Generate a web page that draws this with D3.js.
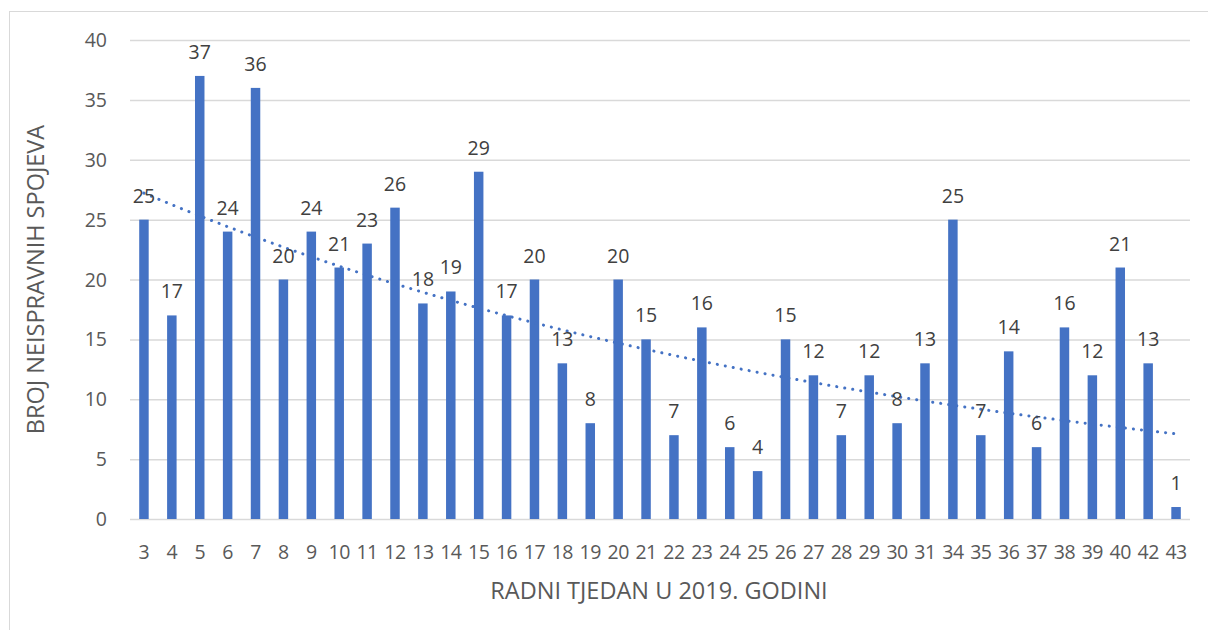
<!DOCTYPE html>
<html>
<head>
<meta charset="utf-8">
<script src="https://cdn.jsdelivr.net/npm/d3@7"></script>
<style>
  body { margin: 0; background: #fff; }
  text { font-family: "Open Sans", "Noto Sans", sans-serif; }
</style>
</head>
<body>
<svg id="chart" width="1208" height="630"></svg>
<script>
// weeks on the x axis
var weeks = ["3", "4", "5", "6", "7", "8", "9", "10", "11", "12", "13", "14", "15", "16", "17", "18", "19", "20",
    "21", "22", "23", "24", "25", "26", "27", "28", "29", "30", "31", "34", "35", "36", "37", "38", "39", "40", "42", "43"];

// broken joints per week
var counts = [25, 17, 37, 24, 36, 20, 24, 21, 23, 26, 18, 19, 29, 17, 20, 13, 8, 20,
    15, 7, 16, 6, 4, 15, 12, 7, 12, 8, 13, 25, 7, 14, 6, 16, 12, 21, 13, 1];

var yTicks = [0, 5, 10, 15, 20, 25, 30, 35, 40];

var svg = d3.select('#chart');
var margin = {left: 130, right: 1190, top: 40, bottom: 519};
var barColor = '#4472C4';

// outer chart border
svg.append('rect')
    .attr('x', 9.5).attr('y', 11.5)
    .attr('width', 1300).attr('height', 700)
    .attr('fill', 'none')
    .attr('stroke', '#d9d9d9');

var x = d3.scaleBand()
    .domain(weeks)
    .range([margin.left, margin.right])
    .paddingInner(0.66)
    .paddingOuter(0.33);

var y = d3.scaleLinear()
    .domain([0, 40])
    .range([margin.bottom, margin.top]);

// gridlines
svg.append('g')
    .selectAll('line')
    .data(yTicks)
    .enter()
    .append('line')
    .attr('x1', margin.left)
    .attr('x2', margin.right)
    .attr('y1', d => y(d) + 0.5)
    .attr('y2', d => y(d) + 0.5)
    .attr('stroke', '#d9d9d9')
    .attr('stroke-width', 1.5);

// y tick labels
svg.append('g')
    .selectAll('text')
    .data(yTicks)
    .enter()
    .append('text')
    .attr('x', 107)
    .attr('y', d => y(d) + 7)
    .attr('text-anchor', 'end')
    .attr('fill', '#595959')
    .style('font-size', '19.5px')
    .text(d => d);

// bars
svg.append('g')
    .selectAll('rect')
    .data(counts)
    .enter()
    .append('rect')
    .attr('x', (d, i) => x(weeks[i]))
    .attr('y', d => y(d))
    .attr('width', x.bandwidth())
    .attr('height', d => y(0) - y(d))
    .attr('fill', barColor);

// x tick labels
svg.append('g')
    .selectAll('text')
    .data(weeks)
    .enter()
    .append('text')
    .attr('x', d => x(d) + x.bandwidth() / 2)
    .attr('y', 559)
    .attr('text-anchor', 'middle')
    .attr('fill', '#595959')
    .style('font-size', '19.5px')
    .style('letter-spacing', '-0.5px')
    .text(d => d);

// exponential trendline fitted on ln(count) vs index, like the spreadsheet does
var n = counts.length;
var xs = d3.range(1, n + 1);
var ls = counts.map(v => Math.log(v));
var mx = d3.mean(xs), ml = d3.mean(ls);
var b = d3.sum(xs, (v, i) => (v - mx) * (ls[i] - ml)) / d3.sum(xs, v => (v - mx) * (v - mx));
var a = ml - b * mx;
var trend = d3.range(0, n - 1, 0.25).concat([n - 1]).map(t => ({t: t, v: Math.exp(a + b * (t + 1))}));

var tx = d3.scaleLinear()
    .domain([0, n - 1])
    .range([x(weeks[0]) + x.bandwidth() / 2, x(weeks[n - 1]) + x.bandwidth() / 2]);

svg.append('path')
    .datum(trend)
    .attr('d', d3.line().x(d => tx(d.t)).y(d => y(d.v)))
    .attr('fill', 'none')
    .attr('stroke', barColor)
    .attr('stroke-width', 3)
    .attr('stroke-linecap', 'round')
    .attr('stroke-dasharray', '0.1 8');

// data labels
svg.append('g')
    .selectAll('text')
    .data(counts)
    .enter()
    .append('text')
    .attr('x', (d, i) => x(weeks[i]) + x.bandwidth() / 2)
    .attr('y', d => y(d) - 17)
    .attr('text-anchor', 'middle')
    .attr('fill', '#404040')
    .style('font-size', '19.5px')
    .text(d => d);

// axis titles
svg.append('text')
    .attr('x', 659)
    .attr('y', 599)
    .attr('text-anchor', 'middle')
    .attr('fill', '#595959')
    .style('font-size', '23.5px')
    .text('RADNI TJEDAN U 2019. GODINI');

svg.append('text')
    .attr('transform', 'translate(44,' + (margin.top + margin.bottom) / 2 + ') rotate(-90)')
    .attr('text-anchor', 'middle')
    .attr('fill', '#595959')
    .style('font-size', '23.5px')
    .text('BROJ NEISPRAVNIH SPOJEVA');
</script>
</body>
</html>
